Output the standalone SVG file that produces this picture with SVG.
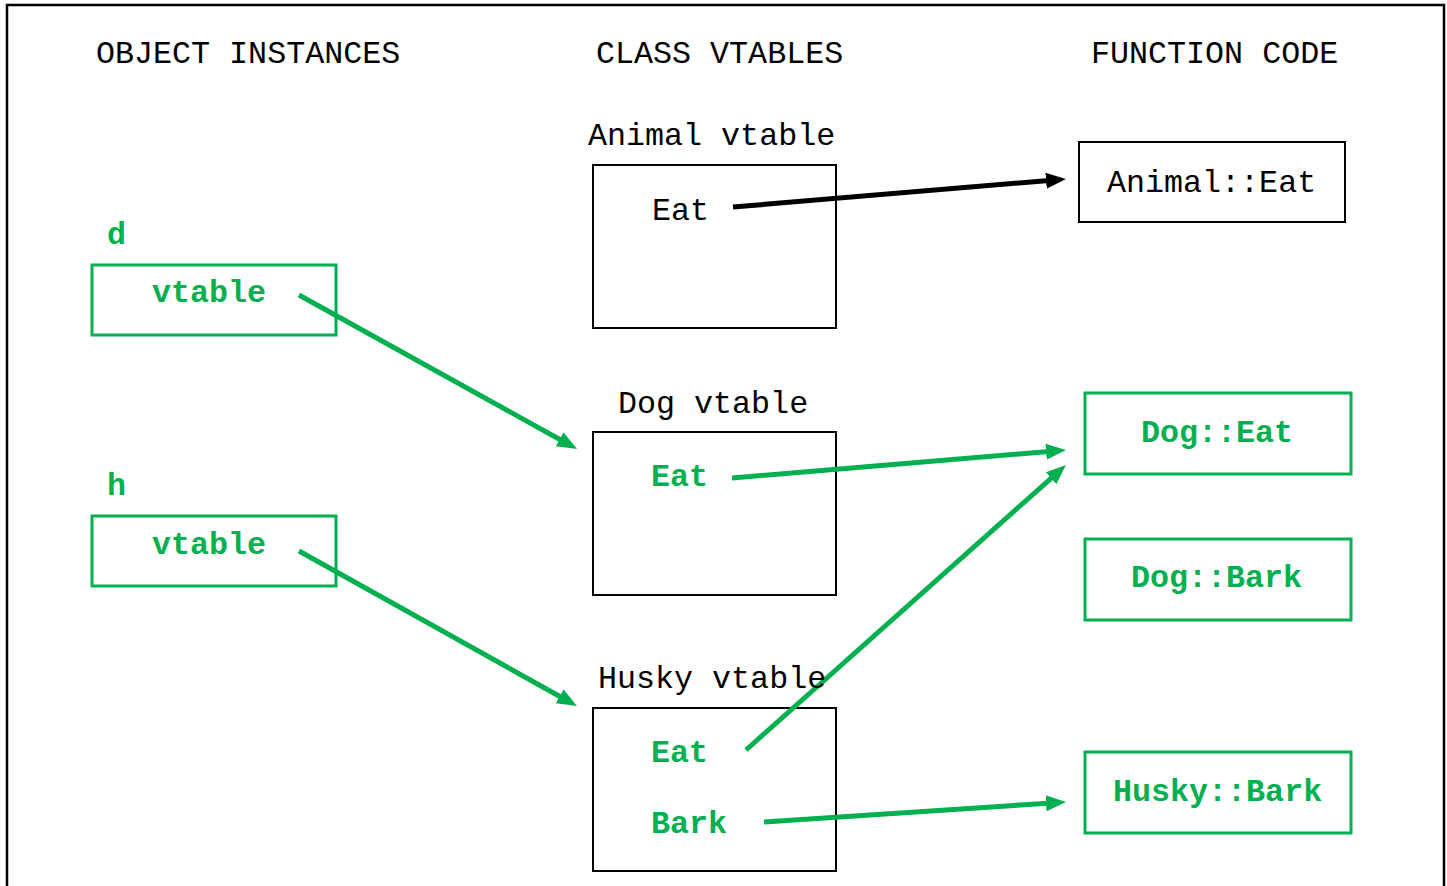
<svg xmlns="http://www.w3.org/2000/svg" width="1447" height="886" viewBox="0 0 1447 886">
<style>
.t{font-family:"Liberation Mono","Courier New",monospace;font-size:31.7px;fill:#000}
.g{font-family:"Liberation Mono","Courier New",monospace;font-size:31.7px;font-weight:bold;fill:#00B050}
.bb{fill:#fff;stroke:#000;stroke-width:2}
.gb{fill:#fff;stroke:#00B050;stroke-width:3}
.kl{stroke:#000;stroke-width:5;fill:none}
.gl{stroke:#00B050;stroke-width:5;fill:none}
</style>
<defs>
<marker id="ak" markerUnits="userSpaceOnUse" markerWidth="20" markerHeight="16" refX="6" refY="8" orient="auto"><path d="M0,0 L20,8 L0,16 z" fill="#000"/></marker>
<marker id="ag" markerUnits="userSpaceOnUse" markerWidth="20" markerHeight="16" refX="6" refY="8" orient="auto"><path d="M0,0 L20,8 L0,16 z" fill="#00B050"/></marker>
</defs>
<rect width="1447" height="886" fill="#fff"/>
<path d="M7,900 L7,5 L1444,5 L1444,900" fill="none" stroke="#000" stroke-width="2.5"/>
<g id="headings">
<text class="t" x="96" y="63">OBJECT INSTANCES</text>
<text class="t" x="596" y="63">CLASS VTABLES</text>
<text class="t" x="1091" y="63">FUNCTION CODE</text>
</g>
<g id="obj-d">
<text class="g" x="107" y="244">d</text>
<rect class="gb" x="92" y="265" width="244" height="70"/>
<text class="g" x="152" y="302">vtable</text>
</g>
<g id="obj-h">
<text class="g" x="107" y="495">h</text>
<rect class="gb" x="92" y="516" width="244" height="70"/>
<text class="g" x="152" y="554">vtable</text>
</g>
<g id="animal-vtable">
<text class="t" x="588" y="145">Animal vtable</text>
<rect class="bb" x="593" y="165" width="243" height="163"/>
<text class="t" x="652" y="220">Eat</text>
</g>
<g id="dog-vtable">
<text class="t" x="618" y="413">Dog vtable</text>
<rect class="bb" x="593" y="432" width="243" height="163"/>
<text class="g" x="651" y="486">Eat</text>
</g>
<g id="husky-vtable">
<rect class="bb" x="593" y="708" width="243" height="163"/>
<text class="g" x="651" y="762">Eat</text>
<text class="g" x="651" y="833">Bark</text>
</g>
<g id="animal-eat">
<rect class="bb" x="1079" y="142" width="266" height="80"/>
<text class="t" x="1107" y="192">Animal::Eat</text>
</g>
<g id="dog-eat">
<rect class="gb" x="1085" y="393" width="266" height="81"/>
<text class="g" x="1141" y="442">Dog::Eat</text>
</g>
<g id="dog-bark">
<rect class="gb" x="1085" y="539" width="266" height="81"/>
<text class="g" x="1131" y="587">Dog::Bark</text>
</g>
<g id="husky-bark">
<rect class="gb" x="1085" y="752" width="266" height="81"/>
<text class="g" x="1113" y="801">Husky::Bark</text>
</g>
<g id="connectors">
<line class="kl" x1="733" y1="207" x2="1052" y2="180.2" marker-end="url(#ak)"/>
<line class="gl" x1="299" y1="295" x2="564.8" y2="442.2" marker-end="url(#ag)"/>
<line class="gl" x1="299" y1="551" x2="564.8" y2="699.2" marker-end="url(#ag)"/>
<line class="gl" x1="732" y1="478" x2="1052" y2="451.2" marker-end="url(#ag)"/>
<line class="gl" x1="746" y1="750" x2="1055.5" y2="474.3" marker-end="url(#ag)"/>
<line class="gl" x1="764" y1="822" x2="1052" y2="802.9" marker-end="url(#ag)"/>
</g>
<text class="t" x="598" y="688">Husky vtable</text>
</svg>
